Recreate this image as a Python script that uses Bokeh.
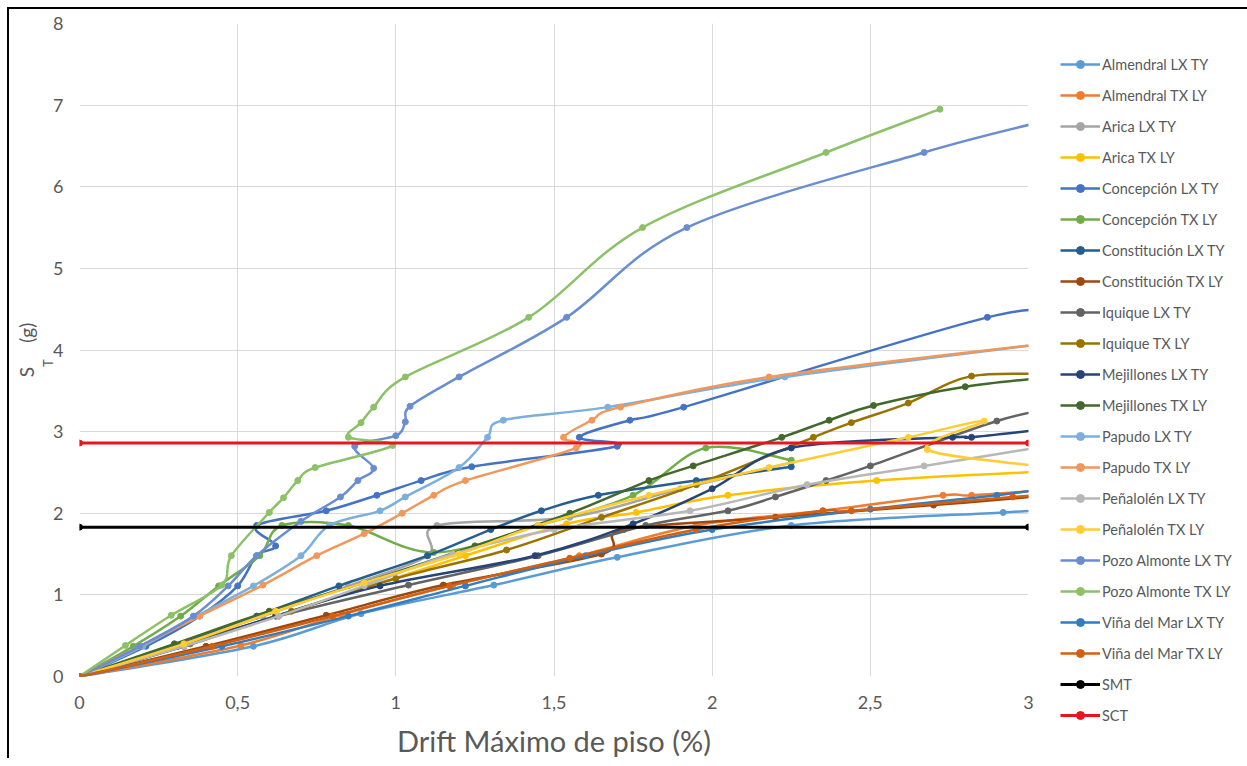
from bokeh.plotting import figure
from bokeh.models import ColumnDataSource, Legend, LegendItem, FixedTicker, Title
from bokeh.embed import file_html
from bokeh.resources import INLINE

# ---------------- data ----------------
almendral_lx_ty_x = [0, 0.55, 0.89, 1.31, 1.70, 2.25, 2.92, 3.10]
almendral_lx_ty_y = [0, 0.37, 0.77, 1.12, 1.46, 1.85, 2.01, 2.05]
almendral_tx_ly_x = [0, 0.51, 0.83, 1.18, 1.58, 1.95, 2.35, 2.73, 2.82, 3.10]
almendral_tx_ly_y = [0, 0.38, 0.76, 1.12, 1.48, 1.85, 2.03, 2.22, 2.22, 2.30]
arica_lx_ty_x = [0, 0.30, 0.58, 0.85, 1.10, 1.13, 1.55, 1.90, 2.25]
arica_lx_ty_y = [0, 0.37, 0.74, 1.11, 1.48, 1.85, 1.95, 2.30, 2.62]
arica_tx_ly_x = [0, 0.33, 0.62, 0.92, 1.22, 1.54, 1.76, 2.05, 2.52, 3.10]
arica_tx_ly_y = [0, 0.37, 0.74, 1.11, 1.48, 1.87, 2.01, 2.22, 2.40, 2.52]
concepcion_lx_ty_x = [0, 0.21, 0.38, 0.50, 0.56, 0.62, 0.56, 0.78, 0.94, 1.08, 1.24, 1.70, 1.58, 1.74, 1.91, 2.87, 3.10]
concepcion_lx_ty_y = [0, 0.37, 0.74, 1.11, 1.48, 1.60, 1.85, 2.03, 2.22, 2.40, 2.57, 2.82, 2.93, 3.14, 3.30, 4.40, 4.43]
concepcion_tx_ly_x = [0, 0.17, 0.32, 0.44, 0.57, 0.64, 0.85, 1.12, 1.45, 1.75, 1.98, 2.25]
concepcion_tx_ly_y = [0, 0.37, 0.74, 1.11, 1.48, 1.85, 1.85, 1.52, 1.85, 2.22, 2.80, 2.65]
constitucion_lx_ty_x = [0, 0.30, 0.56, 0.82, 1.10, 1.30, 1.46, 1.64, 1.95, 2.25]
constitucion_lx_ty_y = [0, 0.37, 0.74, 1.11, 1.48, 1.80, 2.03, 2.22, 2.40, 2.57]
constitucion_tx_ly_x = [0, 0.40, 0.78, 1.15, 1.65, 1.72, 2.20, 2.70, 3.10]
constitucion_tx_ly_y = [0, 0.37, 0.75, 1.12, 1.50, 1.80, 1.95, 2.10, 2.23]
iquique_lx_ty_x = [0, 0.31, 0.63, 1.04, 1.45, 1.79, 2.05, 2.20, 2.36, 2.50, 2.90, 3.10]
iquique_lx_ty_y = [0, 0.37, 0.74, 1.12, 1.48, 1.85, 2.03, 2.20, 2.40, 2.58, 3.13, 3.30]
iquique_tx_ly_x = [0, 0.35, 0.67, 1.00, 1.35, 1.65, 1.95, 2.32, 2.44, 2.62, 2.82, 3.10]
iquique_tx_ly_y = [0, 0.40, 0.80, 1.20, 1.55, 1.95, 2.35, 2.93, 3.11, 3.35, 3.68, 3.70]
mejillones_lx_ty_x = [0, 0.33, 0.62, 0.95, 1.44, 1.75, 2.00, 2.25, 2.76, 2.82, 3.10]
mejillones_lx_ty_y = [0, 0.37, 0.74, 1.11, 1.48, 1.87, 2.30, 2.80, 2.93, 2.93, 3.05]
mejillones_tx_ly_x = [0, 0.30, 0.60, 0.90, 1.25, 1.55, 1.80, 1.94, 2.22, 2.37, 2.51, 2.80, 3.10]
mejillones_tx_ly_y = [0, 0.40, 0.80, 1.15, 1.60, 2.00, 2.40, 2.58, 2.93, 3.14, 3.32, 3.55, 3.68]
papudo_lx_ty_x = [0, 0.20, 0.37, 0.55, 0.70, 0.79, 0.95, 1.03, 1.20, 1.29, 1.34, 1.67, 2.23, 3.10]
papudo_lx_ty_y = [0, 0.37, 0.74, 1.11, 1.48, 1.85, 2.03, 2.20, 2.56, 2.93, 3.14, 3.30, 3.67, 4.10]
papudo_tx_ly_x = [0, 0.19, 0.38, 0.58, 0.75, 0.90, 1.02, 1.12, 1.22, 1.57, 1.53, 1.62, 1.71, 2.18, 3.10]
papudo_tx_ly_y = [0, 0.37, 0.74, 1.12, 1.48, 1.75, 2.00, 2.22, 2.40, 2.80, 2.93, 3.14, 3.30, 3.67, 4.10]
penalolen_lx_ty_x = [0, 0.33, 0.63, 0.90, 1.18, 1.50, 1.93, 2.30, 2.67, 3.10]
penalolen_lx_ty_y = [0, 0.37, 0.74, 1.11, 1.50, 1.80, 2.03, 2.35, 2.58, 2.85]
penalolen_tx_ly_x = [0, 0.33, 0.62, 0.90, 1.20, 1.45, 1.80, 2.18, 2.62, 2.86, 2.68, 3.10]
penalolen_tx_ly_y = [0, 0.40, 0.80, 1.15, 1.50, 1.85, 2.22, 2.56, 2.93, 3.13, 2.78, 2.55]
pozo_lx_ty_x = [0, 0.19, 0.36, 0.47, 0.56, 0.70, 0.825, 0.88, 0.93, 0.87, 1.00, 1.03, 1.045, 1.20, 1.54, 1.92, 2.67, 3.10]
pozo_lx_ty_y = [0, 0.37, 0.74, 1.11, 1.48, 1.90, 2.20, 2.40, 2.55, 2.82, 2.95, 3.12, 3.31, 3.67, 4.40, 5.50, 6.42, 6.85]
pozo_tx_ly_x = [0, 0.145, 0.29, 0.45, 0.48, 0.60, 0.645, 0.69, 0.745, 0.99, 0.85, 0.89, 0.93, 1.03, 1.42, 1.78, 2.36, 2.72]
pozo_tx_ly_y = [0, 0.38, 0.75, 1.12, 1.48, 2.01, 2.19, 2.40, 2.56, 2.83, 2.93, 3.11, 3.30, 3.67, 4.40, 5.50, 6.42, 6.95]
vina_lx_ty_x = [0, 0.45, 0.85, 1.22, 1.60, 2.00, 2.50, 2.90, 3.10]
vina_lx_ty_y = [0, 0.37, 0.74, 1.11, 1.48, 1.80, 2.05, 2.22, 2.33]
vina_tx_ly_x = [0, 0.42, 0.80, 1.17, 1.55, 1.95, 2.35, 2.44, 2.95, 3.10]
vina_tx_ly_y = [0, 0.37, 0.74, 1.11, 1.45, 1.80, 2.03, 2.03, 2.20, 2.24]
smt_x = [0, 3]
smt_y = [1.83, 1.83]
sct_x = [0, 3]
sct_y = [2.86, 2.86]

series_names = ["Almendral LX TY", "Almendral TX LY", "Arica LX TY", "Arica TX LY",
                "Concepción LX TY", "Concepción TX LY", "Constitución LX TY", "Constitución TX LY",
                "Iquique LX TY", "Iquique TX LY", "Mejillones LX TY", "Mejillones TX LY",
                "Papudo LX TY", "Papudo TX LY", "Peñalolén LX TY", "Peñalolén TX LY",
                "Pozo Almonte LX TY", "Pozo Almonte TX LY", "Viña del Mar LX TY", "Viña del Mar TX LY",
                "SMT", "SCT"]
series_x = [almendral_lx_ty_x, almendral_tx_ly_x, arica_lx_ty_x, arica_tx_ly_x,
            concepcion_lx_ty_x, concepcion_tx_ly_x, constitucion_lx_ty_x, constitucion_tx_ly_x,
            iquique_lx_ty_x, iquique_tx_ly_x, mejillones_lx_ty_x, mejillones_tx_ly_x,
            papudo_lx_ty_x, papudo_tx_ly_x, penalolen_lx_ty_x, penalolen_tx_ly_x,
            pozo_lx_ty_x, pozo_tx_ly_x, vina_lx_ty_x, vina_tx_ly_x, smt_x, sct_x]
series_y = [almendral_lx_ty_y, almendral_tx_ly_y, arica_lx_ty_y, arica_tx_ly_y,
            concepcion_lx_ty_y, concepcion_tx_ly_y, constitucion_lx_ty_y, constitucion_tx_ly_y,
            iquique_lx_ty_y, iquique_tx_ly_y, mejillones_lx_ty_y, mejillones_tx_ly_y,
            papudo_lx_ty_y, papudo_tx_ly_y, penalolen_lx_ty_y, penalolen_tx_ly_y,
            pozo_lx_ty_y, pozo_tx_ly_y, vina_lx_ty_y, vina_tx_ly_y, smt_y, sct_y]
colors = ["#5B9BD5", "#ED7D31", "#A5A5A5", "#FFC000", "#4472C4", "#70AD47",
          "#255E91", "#9E480E", "#636363", "#997300", "#264478", "#43682B",
          "#7CAFDD", "#F1975A", "#B7B7B7", "#FFCD33", "#698ED0", "#8CC168",
          "#327DC2", "#D26012", "#000000", "#E8141E"]

x_ticks = [0, 0.5, 1, 1.5, 2, 2.5, 3]
x_tick_labels = ["0", "0,5", "1", "1,5", "2", "2,5", "3"]
y_ticks = [0, 1, 2, 3, 4, 5, 6, 7, 8]

FONT = "Lato"
TXT = "#595959"
NB = "\u00a0"

p = figure(frame_width=949, frame_height=653, x_range=(0, 3), y_range=(0, 8),
           output_backend="svg", toolbar_location=None,
           min_border_left=70, min_border_top=14, min_border_bottom=0, min_border_right=0)
p.styles = {"margin-left": "9px", "margin-top": "9px", "box-shadow": "-2px -2px 0 0 #000000"}
p.outline_line_color = None
p.background_fill_color = "white"
p.border_fill_color = "white"

for ax in (p.xaxis[0], p.yaxis[0]):
    ax.axis_line_color = None
    ax.major_tick_line_color = None
    ax.minor_tick_line_color = None
    ax.major_tick_out = 0
    ax.major_tick_in = 0
    ax.minor_tick_out = 0
    ax.minor_tick_in = 0
    ax.major_label_text_font = FONT
    ax.major_label_text_color = TXT
    ax.major_label_text_font_size = "18px"
    ax.axis_label_text_font = FONT
    ax.axis_label_text_color = TXT
    ax.axis_label_text_font_style = "normal"

p.xaxis.ticker = FixedTicker(ticks=x_ticks)
p.xaxis.major_label_overrides = {t: l for t, l in zip(x_ticks, x_tick_labels)}
p.yaxis.ticker = FixedTicker(ticks=y_ticks)
p.xaxis.major_label_standoff = 19
p.yaxis.major_label_standoff = 16
p.xaxis.axis_label = "Drift Máximo de piso (%)"
p.xaxis.axis_label_text_font_size = "29px"
p.xaxis.axis_label_standoff = 11

# y axis title "S_T (g)": subscript T as the axis label, S and (g) as a title beside it
p.yaxis.axis_label = "T" + NB * 8
p.yaxis.axis_label_text_font_size = "13px"
p.yaxis.axis_label_standoff = -6
p.add_layout(Title(text="S" + NB * 5 + "(g)", align="center", text_font=FONT,
                   text_font_size="19px", text_color=TXT, text_font_style="normal",
                   standoff=0), "left")

p.xgrid.ticker = FixedTicker(ticks=x_ticks)
p.ygrid.ticker = FixedTicker(ticks=y_ticks)
p.grid.grid_line_color = "#D9D9D9"
p.grid.grid_line_width = 1


def bezier_source(xs, ys):
    """Smoothed (Catmull-Rom style) segments between consecutive data points."""
    n = len(xs)
    d = dict(x0=[], y0=[], x1=[], y1=[], cx0=[], cy0=[], cx1=[], cy1=[])
    for i in range(n - 1):
        xa, ya = xs[max(i - 1, 0)], ys[max(i - 1, 0)]
        xb, yb = xs[i], ys[i]
        xc, yc = xs[i + 1], ys[i + 1]
        xd, yd = xs[min(i + 2, n - 1)], ys[min(i + 2, n - 1)]
        d["x0"].append(xb); d["y0"].append(yb)
        d["x1"].append(xc); d["y1"].append(yc)
        d["cx0"].append(xb + (xc - xa) / 6.0); d["cy0"].append(yb + (yc - ya) / 6.0)
        d["cx1"].append(xc - (xd - xb) / 6.0); d["cy1"].append(yc - (yd - yb) / 6.0)
    return ColumnDataSource(d)


items = []
for name, xs, ys, col in zip(series_names, series_x, series_y, colors):
    lw = 3 if name in ("SMT", "SCT") else 2.5
    r_line = p.bezier(x0="x0", y0="y0", x1="x1", y1="y1", cx0="cx0", cy0="cy0", cx1="cx1", cy1="cy1",
                      source=bezier_source(xs, ys), line_color=col, line_width=lw)
    r_pts = p.scatter(xs, ys, marker="circle", size=6, fill_color=col, line_color=col)
    items.append(LegendItem(label=name, renderers=[r_line, r_pts]))

legend = Legend(items=items, location=(32, -49), orientation="vertical",
                glyph_width=40, glyph_height=20, label_height=20, spacing=11,
                label_standoff=2, padding=0, margin=0,
                label_text_font=FONT, label_text_font_size="14.5px", label_text_color=TXT,
                border_line_color=None, background_fill_alpha=0)
p.add_layout(legend, "right")

open("out.html", "w").write(file_html(p, INLINE))
